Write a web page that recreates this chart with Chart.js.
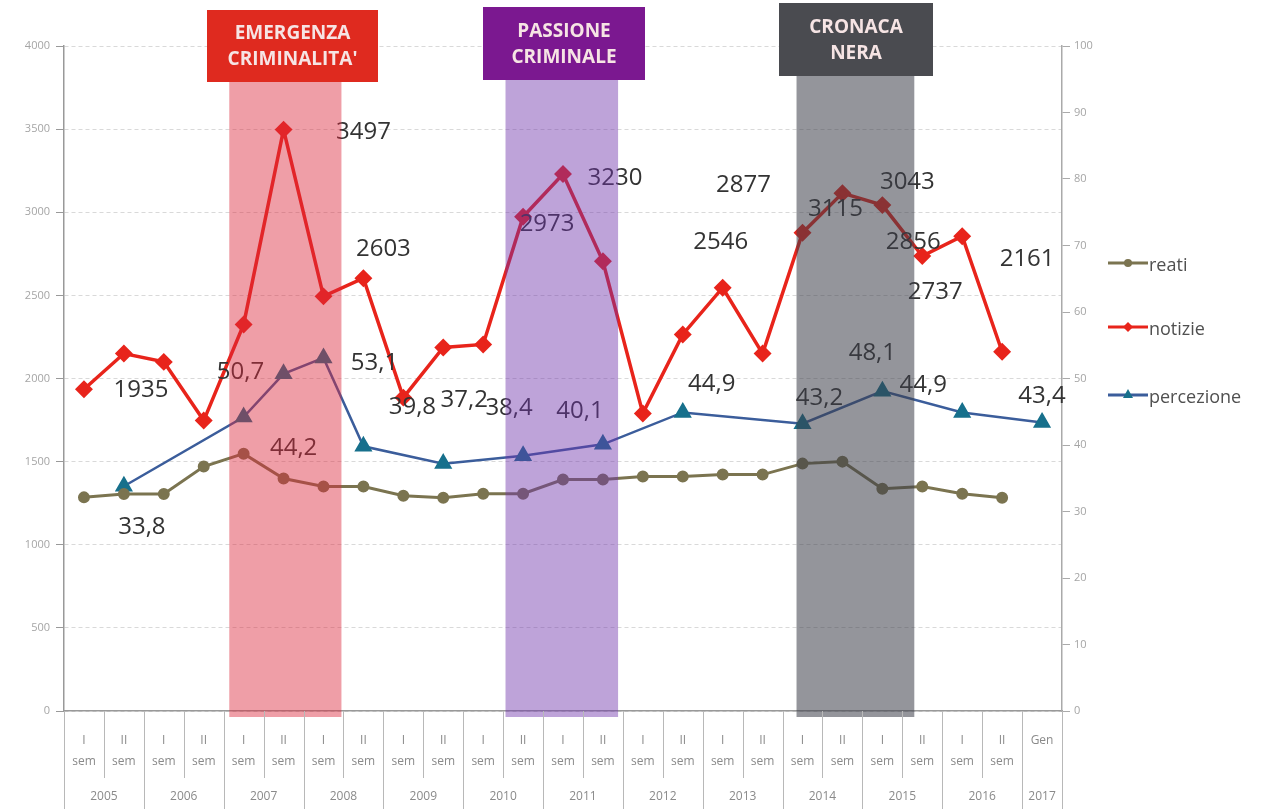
<!DOCTYPE html>
<html>
<head>
<meta charset="utf-8">
<script src="https://cdn.jsdelivr.net/npm/chart.js@4/dist/chart.umd.min.js"></script>
<style>
  html, body { margin: 0; padding: 0; background: #fff; }
  #wrap { width: 1272px; height: 809px; }
</style>
</head>
<body>
<div id="wrap"><canvas id="chart" width="1272" height="809"></canvas></div>
<script>
// categories: semester + year
var semesters = ['I', 'II', 'I', 'II', 'I', 'II', 'I', 'II', 'I', 'II', 'I', 'II',
  'I', 'II', 'I', 'II', 'I', 'II', 'I', 'II', 'I', 'II', 'I', 'II', 'Gen'];
var years = ['2005', '2006', '2007', '2008', '2009', '2010', '2011', '2012',
  '2013', '2014', '2015', '2016', '2017'];
var labels = semesters.map(function (s, i) { return s + ' ' + years[Math.floor(i / 2)]; });

// series values
var notizie = [1935, 2150, 2100, 1747, 2325, 3497, 2494, 2603, 1885, 2187, 2205, 2973,
  3230, 2705, 1790, 2265, 2546, 2150, 2877, 3115, 3043, 2737, 2856, 2161, null];
var reati = [1285, 1305, 1305, 1470, 1548, 1398, 1350, 1350, 1295, 1283, 1307, 1307,
  1392, 1392, 1410, 1410, 1422, 1422, 1488, 1500, 1337, 1350, 1307, 1283, null];
var percezione = [null, 33.8, null, null, 44.2, 50.7, 53.1, 39.8, null, 37.2, null, 38.4,
  null, 40.1, null, 44.9, null, null, 43.2, null, 48.1, null, 44.9, null, 43.4];

// value labels shown on the chart
var notizieLabels = ['1935', '', '', '', '', '3497', '', '2603', '', '', '', '2973',
  '3230', '', '', '', '2546', '', '2877', '3115', '3043', '2737', '2856', '2161', ''];
var percezioneLabels = percezione.map(function (v) {
  return v === null ? '' : String(v).replace('.', ',');
});

// label offsets from their points (px)
var notizieOffsets = {0: [57, 1], 5: [80, 3], 7: [20, -29], 11: [24, 7], 12: [52, 4],
  16: [-2, -46], 18: [-59, -48], 19: [-7, 16], 20: [25, -23], 21: [13, 36],
  22: [-49, 6], 23: [25, -93]};
var percezioneOffsets = {1: [18, 41], 4: [50, 31], 5: [-43, -2], 6: [51, 5],
  7: [49, -39], 9: [21, -63], 11: [-14, -47], 13: [-23, -33], 15: [29, -28],
  18: [17, -26], 20: [-10, -38], 22: [-39, -27], 24: [0, -26]};

// highlighted periods
var bands = [
  {title: ['EMERGENZA', "CRIMINALITA'"], from: 3.64, to: 6.45, fill: 'rgba(220,40,60,0.45)',
    box: '#df2a1f', boxX: [207, 378], boxY: [10, 82]},
  {title: ['PASSIONE', 'CRIMINALE'], from: 10.56, to: 13.38, fill: 'rgba(110,50,170,0.45)',
    box: '#7b1890', boxX: [483, 645], boxY: [7, 80]},
  {title: ['CRONACA', 'NERA'], from: 17.85, to: 20.8, fill: 'rgba(60,62,72,0.55)',
    box: '#4a4b50', boxX: [779, 933], boxY: [3, 76]}
];

var colReati = '#7b7450';
var colNotizie = '#e8241b';
var colPercLine = '#3b5d9b';
var colPercMark = '#17708c';
var FONT = '"Open Sans", "DejaVu Sans", sans-serif';

function catPixel(xs, i) {
  var p0 = xs.getPixelForValue(0);
  var p1 = xs.getPixelForValue(1);
  return p0 + (p1 - p0) * i;
}

var overlayPlugin = {
  id: 'overlay',
  afterDatasetsDraw: function (chart) {
    var ctx = chart.ctx;
    ctx.save();
    ctx.font = '24px ' + FONT;
    ctx.fillStyle = '#333';
    ctx.textAlign = 'center';
    ctx.textBaseline = 'middle';
    var m1 = chart.getDatasetMeta(1);
    notizieLabels.forEach(function (t, i) {
      if (!t) return;
      var el = m1.data[i], o = notizieOffsets[i] || [0, -20];
      ctx.fillText(t, el.x + o[0], el.y + o[1]);
    });
    var m2 = chart.getDatasetMeta(2);
    percezioneLabels.forEach(function (t, i) {
      if (!t) return;
      var el = m2.data[i], o = percezioneOffsets[i] || [0, -20];
      ctx.fillText(t, el.x + o[0], el.y + o[1]);
    });
    ctx.restore();
  },
  afterDraw: function (chart) {
    var ctx = chart.ctx;
    var xs = chart.scales.x;
    var area = chart.chartArea;
    ctx.save();

    // bands + banners
    bands.forEach(function (b) {
      var x0 = catPixel(xs, b.from), x1 = catPixel(xs, b.to);
      ctx.fillStyle = b.fill;
      ctx.fillRect(x0, b.boxY[1], x1 - x0, area.bottom + 6 - b.boxY[1]);
      ctx.fillStyle = b.box;
      ctx.fillRect(b.boxX[0], b.boxY[0], b.boxX[1] - b.boxX[0], b.boxY[1] - b.boxY[0]);
      ctx.fillStyle = '#f6e4e4';
      ctx.font = 'bold 19px ' + FONT;
      ctx.textAlign = 'center';
      ctx.textBaseline = 'middle';
      var cx = (b.boxX[0] + b.boxX[1]) / 2, cy = (b.boxY[0] + b.boxY[1]) / 2;
      ctx.fillText(b.title[0], cx, cy - 12);
      ctx.fillText(b.title[1], cx, cy + 14);
    });

    // category table below the axis
    ctx.strokeStyle = '#b8b8b8';
    ctx.lineWidth = 1;
    var bottom = area.bottom;
    for (var i = 0; i <= labels.length; i++) {
      var x = Math.round(catPixel(xs, i - 0.5)) + 0.5;
      var yearEdge = (i % 2 === 0) || i === labels.length;
      ctx.beginPath();
      ctx.moveTo(x, bottom);
      ctx.lineTo(x, yearEdge ? 809 : 778);
      ctx.stroke();
    }
    ctx.fillStyle = '#8a8a8a';
    ctx.textAlign = 'center';
    ctx.textBaseline = 'middle';
    ctx.font = '12px ' + FONT;
    semesters.forEach(function (s, i) {
      var x = catPixel(xs, i);
      ctx.fillText(s, x, bottom + 30);
      if (s !== 'Gen') ctx.fillText('sem', x, bottom + 51);
    });
    years.forEach(function (y, k) {
      var x = k < 12 ? catPixel(xs, k * 2 + 0.5) : catPixel(xs, 24);
      ctx.fillText(y, x, bottom + 86);
    });

    // legend on the right
    var items = [
      {t: 'reati', c: colReati, m: colReati, s: 'circle', y: 263},
      {t: 'notizie', c: colNotizie, m: colNotizie, s: 'diamond', y: 327},
      {t: 'percezione', c: colPercLine, m: colPercMark, s: 'triangle', y: 395}
    ];
    items.forEach(function (it) {
      ctx.strokeStyle = it.c;
      ctx.lineWidth = 3;
      ctx.beginPath();
      ctx.moveTo(1108, it.y);
      ctx.lineTo(1148, it.y);
      ctx.stroke();
      ctx.fillStyle = it.m;
      ctx.beginPath();
      if (it.s === 'circle') ctx.arc(1128, it.y, 4, 0, Math.PI * 2);
      if (it.s === 'diamond') { ctx.moveTo(1128, it.y - 5); ctx.lineTo(1133, it.y); ctx.lineTo(1128, it.y + 5); ctx.lineTo(1123, it.y); }
      if (it.s === 'triangle') { ctx.moveTo(1128, it.y - 6); ctx.lineTo(1133, it.y + 3); ctx.lineTo(1123, it.y + 3); }
      ctx.fill();
      ctx.fillStyle = '#505050';
      ctx.font = '18px ' + FONT;
      ctx.textAlign = 'left';
      ctx.fillText(it.t, 1149, it.y + 3);
    });
    ctx.restore();
  }
};

new Chart(document.getElementById('chart').getContext('2d'), {
  type: 'line',
  data: {
    labels: labels,
    datasets: [
      {label: 'reati', data: reati, yAxisID: 'y', borderColor: colReati, backgroundColor: colReati,
        borderWidth: 3, pointStyle: 'circle', pointRadius: 4.5, pointHoverRadius: 4.5, tension: 0},
      {label: 'notizie', data: notizie, yAxisID: 'y', borderColor: colNotizie, backgroundColor: colNotizie,
        borderWidth: 3.5, pointStyle: 'rectRot', pointRadius: 6.5, pointHoverRadius: 6.5, tension: 0},
      {label: 'percezione', data: percezione, yAxisID: 'y2', spanGaps: true, borderColor: colPercLine,
        backgroundColor: colPercMark, pointBorderColor: colPercMark, borderWidth: 2.5,
        pointStyle: 'triangle', pointRadius: 8, pointHoverRadius: 8, tension: 0}
    ]
  },
  options: {
    responsive: false,
    animation: false,
    layout: {padding: {top: 46, right: 170, left: 0, bottom: 0}},
    plugins: {legend: {display: false}, tooltip: {enabled: false}},
    scales: {
      x: {
        offset: true,
        grid: {display: false},
        border: {display: true, color: '#999', width: 1.5},
        ticks: {display: false},
        afterFit: function (s) { s.height = 98; }
      },
      y: {
        position: 'left', min: 0, max: 4000,
        ticks: {stepSize: 500, color: '#a5a5a5', font: {size: 11, family: FONT}, padding: 6,
          callback: function (v) { return String(v); }},
        grid: {color: '#d9d9d9', tickLength: 8, tickColor: '#999'},
        border: {color: '#999', width: 1.5, dash: [4, 3]},
        afterFit: function (s) { s.width = 64; }
      },
      y2: {
        position: 'right', min: 0, max: 100,
        ticks: {stepSize: 10, color: '#a5a5a5', font: {size: 11, family: FONT}, padding: 4},
        grid: {drawOnChartArea: false, tickLength: 8, tickColor: '#aaa'},
        border: {color: '#aaa', width: 1.5},
        afterFit: function (s) { s.width = 40; }
      }
    }
  },
  plugins: [overlayPlugin]
});
</script>
</body>
</html>
